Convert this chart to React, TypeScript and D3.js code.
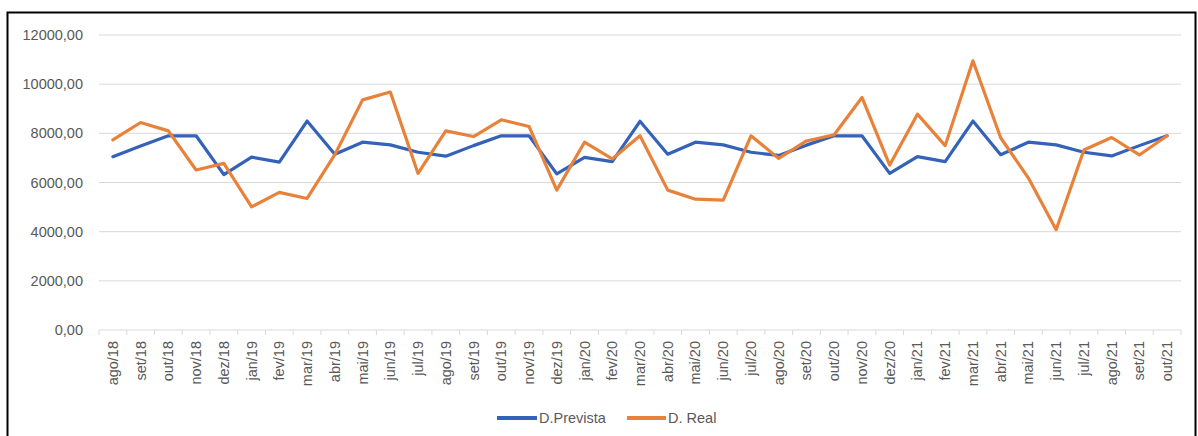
import React from "react";
import * as d3 from "d3";

// Monthly demand: forecast (D.Prevista) vs actual (D. Real)
const categories = [
  "ago/18", "set/18", "out/18", "nov/18", "dez/18",
  "jan/19", "fev/19", "mar/19", "abr/19", "mai/19", "jun/19", "jul/19", "ago/19", "set/19", "out/19", "nov/19", "dez/19",
  "jan/20", "fev/20", "mar/20", "abr/20", "mai/20", "jun/20", "jul/20", "ago/20", "set/20", "out/20", "nov/20", "dez/20",
  "jan/21", "fev/21", "mar/21", "abr/21", "mai/21", "jun/21", "jul/21", "ago/21", "set/21", "out/21",
];

const prevista = [
  7050, 7480, 7900, 7900, 6320,
  7030, 6830, 8500, 7150, 7640, 7530, 7230, 7070, 7500, 7900, 7900, 6350,
  7020, 6850, 8490, 7150, 7640, 7530, 7230, 7100, 7520, 7900, 7900, 6370,
  7050, 6850, 8500, 7130, 7640, 7530, 7230, 7080, 7500, 7900,
];

const real = [
  7730, 8440, 8100, 6510, 6780,
  5010, 5600, 5350, 7130, 9360, 9680, 6370, 8100, 7870, 8550, 8280, 5690,
  7640, 6960, 7900, 5690, 5320, 5280, 7900, 6980, 7690, 7940, 9460, 6710,
  8780, 7500, 10950, 7820, 6180, 4080, 7320, 7830, 7120, 7900,
];

const yTicks = [0, 2000, 4000, 6000, 8000, 10000, 12000];

const seriesNames = ["D.Prevista", "D. Real"];
const seriesColors = ["#3462B9", "#E8823A"];

const W = 1198;
const H = 436;
const plot = { left: 99, right: 1181, top: 35, bottom: 330 };
const FONT = "'Liberation Sans', Arial, sans-serif";
const TEXT = "#595959";
const GRID = "#d9d9d9";

const fmt = (v: number) => d3.format(".2f")(v).replace(".", ",");

export default function App() {
  const x = d3
    .scaleBand<string>()
    .domain(categories)
    .range([plot.left, plot.right]);
  const y = d3.scaleLinear().domain([0, 12000]).range([plot.bottom, plot.top]);
  const cx = (c: string) => (x(c) as number) + x.bandwidth() / 2;

  const line = d3
    .line<number>()
    .x((_, i) => cx(categories[i]))
    .y((d) => y(d));

  const boundaries = d3.range(categories.length + 1).map((i) => plot.left + i * x.step());

  const legendY = 418;

  return (
    <svg
      width={W}
      height={H}
      style={{ position: "absolute", left: 0, top: 0, background: "#fff" }}
      fontFamily={FONT}
    >
      <rect x={0} y={0} width={W} height={H} fill="#fff" />
      {/* frame */}
      <rect x={7.5} y={12.5} width={1188} height={440} fill="none" stroke="#000" strokeWidth={2} />

      {/* gridlines and y labels */}
      {yTicks.map((t) => (
        <g key={t}>
          <line x1={plot.left} x2={plot.right} y1={y(t)} y2={y(t)} stroke={GRID} strokeWidth={1} />
          <text
            x={83}
            y={y(t)}
            textAnchor="end"
            dominantBaseline="central"
            fontSize={14.5}
            fill={TEXT}
          >
            {fmt(t)}
          </text>
        </g>
      ))}

      {/* category tick marks */}
      {boundaries.map((bx, i) => (
        <line key={i} x1={bx} x2={bx} y1={plot.bottom} y2={plot.bottom + 5} stroke={GRID} strokeWidth={1} />
      ))}

      {/* x labels */}
      {categories.map((c) => (
        <text
          key={c}
          transform={`translate(${cx(c)},${plot.bottom + 11}) rotate(-90)`}
          textAnchor="end"
          dominantBaseline="central"
          fontSize={14.5}
          fill={TEXT}
        >
          {c}
        </text>
      ))}

      {/* series */}
      {[prevista, real].map((s, i) => (
        <path
          key={i}
          d={line(s) as string}
          fill="none"
          stroke={seriesColors[i]}
          strokeWidth={3.2}
          strokeLinejoin="round"
          strokeLinecap="round"
        />
      ))}

      {/* legend */}
      <g>
        <line x1={497} x2={537} y1={legendY} y2={legendY} stroke={seriesColors[0]} strokeWidth={4} />
        <text x={539} y={legendY} dominantBaseline="central" fontSize={14.5} fill={TEXT}>
          {seriesNames[0]}
        </text>
        <line x1={627} x2={666} y1={legendY} y2={legendY} stroke={seriesColors[1]} strokeWidth={4} />
        <text x={668} y={legendY} dominantBaseline="central" fontSize={14.5} fill={TEXT}>
          {seriesNames[1]}
        </text>
      </g>
    </svg>
  );
}
